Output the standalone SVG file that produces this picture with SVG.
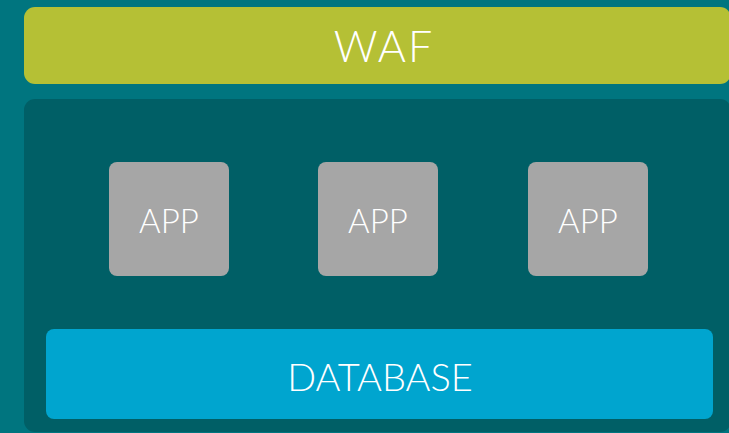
<svg xmlns="http://www.w3.org/2000/svg" width="729" height="433" viewBox="0 0 729 433">
<style>
.t{font-family:Lato,"Liberation Sans",sans-serif;font-weight:300;fill:#ffffff;text-anchor:middle}
.app{fill:#a6a6a6}
</style>
<rect x="0" y="0" width="729" height="433" fill="#00757f"/>
<g id="waf">
<rect x="24" y="7" width="707" height="77" rx="11" fill="#b5c035"/>
<text class="t" x="384" y="62" font-size="43" letter-spacing="2">WAF</text>
</g>
<g id="container">
<rect x="24" y="99" width="707" height="333" rx="11" fill="#005f66"/>
</g>
<g id="app1">
<rect class="app" x="109" y="162" width="120" height="114" rx="8"/>
<text class="t" x="169" y="233" font-size="33">APP</text>
</g>
<g id="app2">
<rect class="app" x="318" y="162" width="120" height="114" rx="8"/>
<text class="t" x="378" y="233" font-size="33">APP</text>
</g>
<g id="app3">
<rect class="app" x="528" y="162" width="120" height="114" rx="8"/>
<text class="t" x="588" y="233" font-size="33">APP</text>
</g>
<g id="database">
<rect x="46" y="329" width="667" height="90" rx="8" fill="#00a5cf"/>
<text class="t" x="380" y="391" font-size="38">DATABASE</text>
</g>
<g id="connectors"/>
</svg>
